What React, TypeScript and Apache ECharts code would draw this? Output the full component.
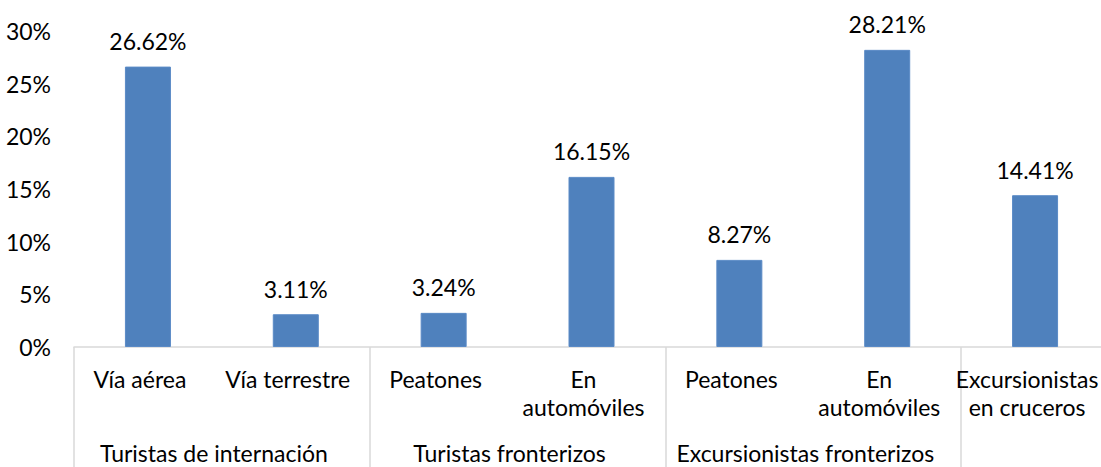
import React, { useEffect, useRef } from "react";
import * as echarts from "echarts";

const categories = [
  "Vía aérea",
  "Vía terrestre",
  "Peatones",
  "En\nautomóviles",
  "Peatones",
  "En\nautomóviles",
  "Excursionistas\nen cruceros",
];
const values = [26.62, 3.11, 3.24, 16.15, 8.27, 28.21, 14.41];
const groupNames = [
  "Turistas de internación",
  "Turistas fronterizos",
  "Excursionistas fronterizos",
  "",
];
const groupSizes = [2, 2, 2, 1];
const yTicks = [0, 5, 10, 15, 20, 25, 30];

const FONT = "Lato";
const FS = 23;
const TEXT = "#000000";
const GRAY = "#d9d9d9";

export default function App() {
  const ref = useRef<HTMLDivElement>(null);
  useEffect(() => {
    if (!ref.current) return;
    const chart = echarts.init(ref.current, null, { renderer: "svg" });

    const starts: number[] = [];
    const centers: Record<string, string> = {};
    let acc = 0;
    groupSizes.forEach((s, i) => {
      starts.push(acc);
      centers[String(acc + s / 2)] = groupNames[i];
      acc += s;
    });

    chart.setOption({
      animation: false,
      textStyle: { fontFamily: FONT },
      grid: { left: 74, top: 31, right: 3, height: 318, containLabel: false },
      xAxis: [
        {
          type: "category",
          data: categories,
          boundaryGap: true,
          axisLine: { show: true, lineStyle: { color: GRAY, width: 1.5 } },
          axisTick: {
            show: true,
            length: 130,
            lineStyle: { color: GRAY, width: 1.5 },
            interval: (index: number) => starts.includes(index),
          },
          axisLabel: {
            interval: 0,
            color: TEXT,
            fontFamily: FONT,
            fontSize: FS,
            lineHeight: 28,
            margin: 18,
            padding: [0, 16, 0, 0],
          },
        },
        {
          type: "value",
          position: "bottom",
          min: 0,
          max: categories.length,
          interval: 1,
          axisLine: { show: false },
          axisTick: { show: false },
          splitLine: { show: false },
          axisLabel: {
            color: TEXT,
            fontFamily: FONT,
            fontSize: FS,
            lineHeight: 28,
            margin: 92,
            padding: [0, 16, 0, 0],
            formatter: (v: number) => centers[String(v)] || "",
          },
        },
      ],
      yAxis: {
        type: "value",
        min: yTicks[0],
        max: yTicks[yTicks.length - 1],
        interval: 5,
        axisLine: { show: false },
        axisTick: { show: false },
        splitLine: { show: false },
        axisLabel: {
          color: TEXT,
          fontFamily: FONT,
          fontSize: FS,
          margin: 23,
          formatter: (v: number) => `${v}%`,
        },
      },
      series: [
        {
          type: "bar",
          xAxisIndex: 0,
          data: values,
          barWidth: 46,
          itemStyle: { color: "#4f81bd", borderColor: "#5a8ac6", borderWidth: 1 },
          label: {
            show: true,
            position: "top",
            distance: 14,
            color: TEXT,
            fontFamily: FONT,
            fontSize: FS,
            lineHeight: 23,
            formatter: (p: any) => `${p.value.toFixed(2)}%`,
          },
        },
      ],
    });
    return () => chart.dispose();
  }, []);
  return (
    <div
      style={{
        position: "absolute",
        left: 0,
        top: 0,
        width: 1101,
        height: 467,
        overflow: "hidden",
        background: "#fff",
      }}
    >
      <div ref={ref} style={{ width: 1120, height: 467 }} />
    </div>
  );
}
